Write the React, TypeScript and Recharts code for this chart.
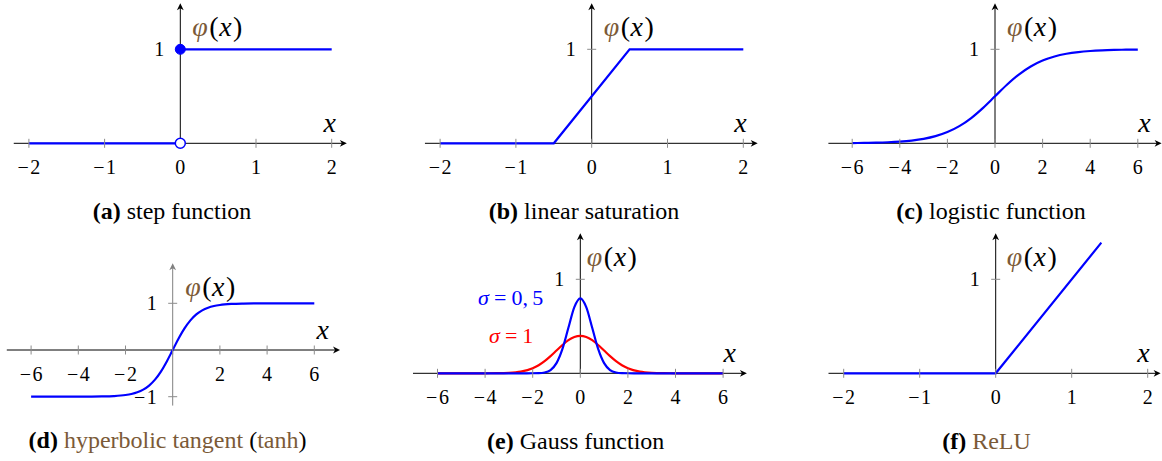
import React from 'react';
import { LineChart, Line, XAxis, YAxis, ReferenceLine, ReferenceDot } from 'recharts';

const SERIF = "'Liberation Serif', 'Times New Roman', Times, serif";
const BLUE = '#0000ff';
const RED = '#ff0000';
const BROWN = '#7b5a37';
const TICK = '#8c8c8c';
const INK = '#000000';

// (a) step function
const stepX = [-2, 0, 2];
const stepLower = [0, 0, null];
const stepUpper = [null, 1, 1];

// (b) linear saturation
const satX = [-2, -0.5, 0.5, 2];
const satY = [0, 0, 1, 1];

// (c) logistic function
const logX = [-6, -5.5, -5, -4.5, -4, -3.5, -3, -2.5, -2, -1.5, -1, -0.5, 0, 0.5, 1, 1.5, 2, 2.5, 3, 3.5, 4, 4.5, 5, 5.5, 6];
const logY = [0.0025, 0.0041, 0.0067, 0.011, 0.018, 0.0293, 0.0474, 0.0759, 0.1192, 0.1824, 0.2689, 0.3775, 0.5, 0.6225, 0.7311, 0.8176, 0.8808, 0.9241, 0.9526, 0.9707, 0.982, 0.989, 0.9933, 0.9959, 0.9975];

// (d) hyperbolic tangent
const tanhX = [-6, -5, -4, -3.5, -3, -2.5, -2, -1.75, -1.5, -1.25, -1, -0.75, -0.5, -0.25, 0, 0.25, 0.5, 0.75, 1, 1.25, 1.5, 1.75, 2, 2.5, 3, 3.5, 4, 5, 6];
const tanhY = [-1, -0.9999, -0.9993, -0.9982, -0.9951, -0.9866, -0.964, -0.9414, -0.9051, -0.8483, -0.7616, -0.6351, -0.4621, -0.2449, 0, 0.2449, 0.4621, 0.6351, 0.7616, 0.8483, 0.9051, 0.9414, 0.964, 0.9866, 0.9951, 0.9982, 0.9993, 0.9999, 1];

// (e) Gauss function, sigma = 0.5 and sigma = 1
const gaussX = [-6, -5, -4, -3.5, -3, -2.5, -2, -1.75, -1.5, -1.25, -1, -0.75, -0.5, -0.25, 0, 0.25, 0.5, 0.75, 1, 1.25, 1.5, 1.75, 2, 2.5, 3, 3.5, 4, 5, 6];
const gaussNarrow = [0, 0, 0, 0, 0, 0, 0.0003, 0.0017, 0.0089, 0.035, 0.108, 0.259, 0.4839, 0.7041, 0.7979, 0.7041, 0.4839, 0.259, 0.108, 0.035, 0.0089, 0.0017, 0.0003, 0, 0, 0, 0, 0, 0];
const gaussWide = [0, 0, 0.0001, 0.0009, 0.0044, 0.0175, 0.054, 0.0863, 0.1295, 0.1826, 0.242, 0.3011, 0.3521, 0.3867, 0.3989, 0.3867, 0.3521, 0.3011, 0.242, 0.1826, 0.1295, 0.0863, 0.054, 0.0175, 0.0044, 0.0009, 0.0001, 0, 0];

// (f) ReLU
const reluX = [-2, 0, 1.39];
const reluY = [0, 0, 1.39];

// tick positions
const unitTicks = [-2, -1, 0, 1, 2];
const wideTicks = [-6, -4, -2, 0, 2, 4, 6];
const tanhTickLabels = [-6, -4, -2, 2, 4, 6];
const yOne = [1];
const tanhYTicks = [-1, 1];

type Row = Record<string, number | null>;

function rows(xs: number[], cols: Record<string, (number | null)[]>): Row[] {
  return xs.map((x, i) => {
    const r: Row = { x };
    Object.keys(cols).forEach((k) => {
      r[k] = cols[k][i];
    });
    return r;
  });
}

function TickText({ x, y, v, anchor }: { x: number; y: number; v: number; anchor: 'middle' | 'end' }) {
  return (
    <text x={x} y={y} textAnchor={anchor} fontFamily={SERIF} fontSize={20} fill={INK}>
      {v < 0 ? (
        <>
          <tspan>{'\u2212'}</tspan>
          <tspan dx={1.5}>{Math.abs(v)}</tspan>
        </>
      ) : (
        String(v)
      )}
    </text>
  );
}

type Geometry = {
  box: [number, number, number, number];
  origin: [number, number];
  scale: [number, number];
  xDomain: [number, number];
  yDomain: [number, number];
  xAxis: [number, number];
  yAxis: [number, number];
  yAxisColor?: string;
  phiDx: number;
};

function arrowShape(color: string, extra?: (x1: number, y1: number, x2: number, y2: number) => React.ReactNode) {
  return (p: any) => {
    const { x1, y1, x2, y2 } = p;
    const dx = x2 - x1;
    const dy = y2 - y1;
    const len = Math.hypot(dx, dy) || 1;
    const ux = dx / len;
    const uy = dy / len;
    const nx = -uy;
    const ny = ux;
    const bx = x2 - ux * 7;
    const by = y2 - uy * 7;
    const head = `M${x2},${y2} L${bx + nx * 3.4},${by + ny * 3.4} L${x2 - ux * 5},${y2 - uy * 5} L${bx - nx * 3.4},${by - ny * 3.4} Z`;
    return (
      <g>
        <line x1={x1} y1={y1} x2={x2 - ux * 3} y2={y2 - uy * 3} stroke={color} strokeWidth={1} />
        <path d={head} fill={color} stroke="none" />
        {extra ? extra(x1, y1, x2, y2) : null}
      </g>
    );
  };
}

function Phi({ x, y }: { x: number; y: number }) {
  return (
    <text x={x} y={y} fontFamily={SERIF} fontSize={28} fill={INK}>
      <tspan fill={BROWN} fontStyle="italic">φ</tspan>
      <tspan dx={1.5}>(</tspan>
      <tspan fontStyle="italic" dx={0.5}>x</tspan>
      <tspan dx={1.5}>)</tspan>
    </text>
  );
}

function Panel({
  g,
  data,
  xTicks,
  xLabels,
  yTicks,
  children,
}: {
  g: Geometry;
  data: Row[];
  xTicks: number[];
  xLabels: number[];
  yTicks: number[];
  children?: React.ReactNode;
}) {
  const [L, T, W, H] = g.box;
  const [ox, oy] = g.origin;
  const [sx, sy] = g.scale;
  const margin = {
    left: ox + sx * g.xDomain[0] - L,
    right: L + W - (ox + sx * g.xDomain[1]),
    top: oy - sy * g.yDomain[1] - T,
    bottom: T + H - (oy - sy * g.yDomain[0]),
  };
  const yColor = g.yAxisColor ?? INK;
  return (
    <div style={{ position: 'absolute', left: L, top: T, width: W, height: H }}>
      <LineChart width={W} height={H} data={data} margin={margin}>
        <XAxis type="number" dataKey="x" domain={g.xDomain} hide allowDataOverflow />
        <YAxis type="number" domain={g.yDomain} hide allowDataOverflow />
        {xTicks.map((t) => (
          <ReferenceDot
            key={`xt${t}`}
            x={t}
            y={0}
            r={0}
            ifOverflow="visible"
            shape={(p: any) => (
              <g>
                <line x1={p.cx} x2={p.cx} y1={p.cy - 4.5} y2={p.cy + 4.5} stroke={TICK} strokeWidth={1} />
                {xLabels.includes(t) ? <TickText x={p.cx} y={p.cy + 30.5} v={t} anchor="middle" /> : null}
              </g>
            )}
          />
        ))}
        {yTicks.map((t) => (
          <ReferenceDot
            key={`yt${t}`}
            x={0}
            y={t}
            r={0}
            ifOverflow="visible"
            shape={(p: any) => (
              <g>
                <line x1={p.cx - 4.5} x2={p.cx + 4.5} y1={p.cy} y2={p.cy} stroke={TICK} strokeWidth={1} />
                <TickText x={p.cx - 16} y={p.cy + 6.8} v={t} anchor="end" />
              </g>
            )}
          />
        ))}
        <ReferenceLine
          segment={[
            { x: g.xAxis[0], y: 0 },
            { x: g.xAxis[1], y: 0 },
          ]}
          ifOverflow="visible"
          shape={arrowShape(INK, (_x1, _y1, x2, y2) => (
            <text x={x2 - 11} y={y2 - 11} textAnchor="end" fontFamily={SERIF} fontStyle="italic" fontSize={28} fill={INK}>
              x
            </text>
          ))}
        />
        <ReferenceLine
          segment={[
            { x: 0, y: g.yAxis[0] },
            { x: 0, y: g.yAxis[1] },
          ]}
          ifOverflow="visible"
          shape={arrowShape(yColor, (x1, _y1, _x2, y2) => <Phi x={x1 + g.phiDx} y={y2 + 33} />)}
        />
        {children}
      </LineChart>
    </div>
  );
}

const captionBase: React.CSSProperties = {
  position: 'absolute',
  transform: 'translateX(-50%)',
  whiteSpace: 'nowrap',
  fontFamily: SERIF,
  fontSize: 24,
  lineHeight: '24px',
  color: INK,
};

function Caption({ cx, cy, tag, children }: { cx: number; cy: number; tag: string; children: React.ReactNode }) {
  return (
    <div style={{ ...captionBase, left: cx, top: cy - 14 }}>
      <b>({tag})</b> {children}
    </div>
  );
}

const brown: React.CSSProperties = { color: BROWN };

const geoA: Geometry = {
  box: [0, 0, 380, 200],
  origin: [180.3, 143.3],
  scale: [75.7, 94],
  xDomain: [-2.25, 2.25],
  yDomain: [-0.5, 1.5],
  xAxis: [-2.2, 2.2],
  yAxis: [0, 1.49],
  phiDx: 12,
};
const geoB: Geometry = {
  box: [395, 0, 385, 200],
  origin: [591.7, 143.3],
  scale: [75.8, 94],
  xDomain: [-2.25, 2.25],
  yDomain: [-0.5, 1.5],
  xAxis: [-2.2, 2.19],
  yAxis: [0, 1.49],
  phiDx: 12,
};
const geoC: Geometry = {
  box: [795, 0, 367, 200],
  origin: [995, 143.3],
  scale: [23.8, 94],
  xDomain: [-7.1, 7.02],
  yDomain: [-0.5, 1.5],
  xAxis: [-7.0, 7.0],
  yAxis: [0, 1.49],
  phiDx: 12,
};
const geoD: Geometry = {
  box: [0, 230, 380, 215],
  origin: [172.7, 350],
  scale: [23.6, 46.7],
  xDomain: [-7.1, 7.15],
  yDomain: [-1.9, 2.0],
  xAxis: [-7.03, 7.09],
  yAxis: [-1.19, 1.86],
  yAxisColor: '#808080',
  phiDx: 12.5,
};
const geoE: Geometry = {
  box: [395, 230, 385, 200],
  origin: [580.3, 373.3],
  scale: [23.8, 94],
  xDomain: [-7.1, 7.1],
  yDomain: [-0.5, 1.5],
  xAxis: [-7.03, 7.0],
  yAxis: [0, 1.49],
  phiDx: 6.5,
};
const geoF: Geometry = {
  box: [795, 230, 367, 200],
  origin: [995.7, 373.3],
  scale: [76, 94],
  xDomain: [-2.2, 2.18],
  yDomain: [-0.5, 1.5],
  xAxis: [-2.2, 2.17],
  yAxis: [0, 1.49],
  phiDx: 11,
};

const line = { dot: false as const, isAnimationActive: false, strokeWidth: 2.2, stroke: BLUE };

function SigmaLabel({ x, y, color, value }: { x: number; y: number; color: string; value: string }) {
  return (
    <text x={x} y={y} textAnchor="end" fontFamily={SERIF} fontSize={22} fill={color}>
      <tspan fontStyle="italic">σ</tspan>
      <tspan dx={5}>=</tspan>
      <tspan dx={5}>{value}</tspan>
    </text>
  );
}

export default function App() {
  return (
    <div style={{ position: 'absolute', left: 0, top: 0, width: 1162, height: 461, background: '#fff', overflow: 'hidden' }}>
      <Panel g={geoA} data={rows(stepX, { lower: stepLower, upper: stepUpper })} xTicks={unitTicks} xLabels={unitTicks} yTicks={yOne}>
        <Line {...line} type="linear" dataKey="lower" />
        <Line {...line} type="linear" dataKey="upper" />
        <ReferenceDot x={stepX[1]} y={stepUpper[1] as number} r={5} fill={BLUE} stroke={BLUE} strokeWidth={1} ifOverflow="visible" />
        <ReferenceDot x={stepX[1]} y={stepLower[1] as number} r={5} fill="#ffffff" stroke={BLUE} strokeWidth={1.5} ifOverflow="visible" />
      </Panel>

      <Panel g={geoB} data={rows(satX, { y: satY })} xTicks={unitTicks} xLabels={unitTicks} yTicks={yOne}>
        <Line {...line} type="linear" dataKey="y" />
      </Panel>

      <Panel g={geoC} data={rows(logX, { y: logY })} xTicks={wideTicks} xLabels={wideTicks} yTicks={yOne}>
        <Line {...line} type="monotone" dataKey="y" />
      </Panel>

      <Panel g={geoD} data={rows(tanhX, { y: tanhY })} xTicks={wideTicks} xLabels={tanhTickLabels} yTicks={tanhYTicks}>
        <Line {...line} type="monotone" dataKey="y" />
      </Panel>

      <Panel g={geoE} data={rows(gaussX, { narrow: gaussNarrow, wide: gaussWide })} xTicks={wideTicks} xLabels={wideTicks} yTicks={yOne}>
        <Line {...line} stroke={RED} type="monotone" dataKey="wide" />
        <Line {...line} type="monotone" dataKey="narrow" />
        <ReferenceDot
          x={0}
          y={gaussNarrow[14]}
          r={0}
          ifOverflow="visible"
          shape={(p: any) => <SigmaLabel x={p.cx - 37} y={p.cy + 7} color={BLUE} value={'0,\u20095'} />}
        />
        <ReferenceDot
          x={0}
          y={gaussWide[14]}
          r={0}
          ifOverflow="visible"
          shape={(p: any) => <SigmaLabel x={p.cx - 47} y={p.cy + 7.5} color={RED} value="1" />}
        />
      </Panel>

      <Panel g={geoF} data={rows(reluX, { y: reluY })} xTicks={unitTicks} xLabels={unitTicks} yTicks={yOne}>
        <Line {...line} type="linear" dataKey="y" />
      </Panel>

      <Caption cx={172} cy={213} tag="a">step function</Caption>
      <Caption cx={584} cy={213} tag="b">linear saturation</Caption>
      <Caption cx={991} cy={213} tag="c">logistic function</Caption>
      <Caption cx={167.5} cy={441.7} tag="d">
        <span style={brown}>hyperbolic tangent</span> (<span style={brown}>tanh</span>)
      </Caption>
      <Caption cx={575.7} cy={443} tag="e">Gauss function</Caption>
      <Caption cx={986.5} cy={443} tag="f">
        <span style={brown}>ReLU</span>
      </Caption>
    </div>
  );
}
